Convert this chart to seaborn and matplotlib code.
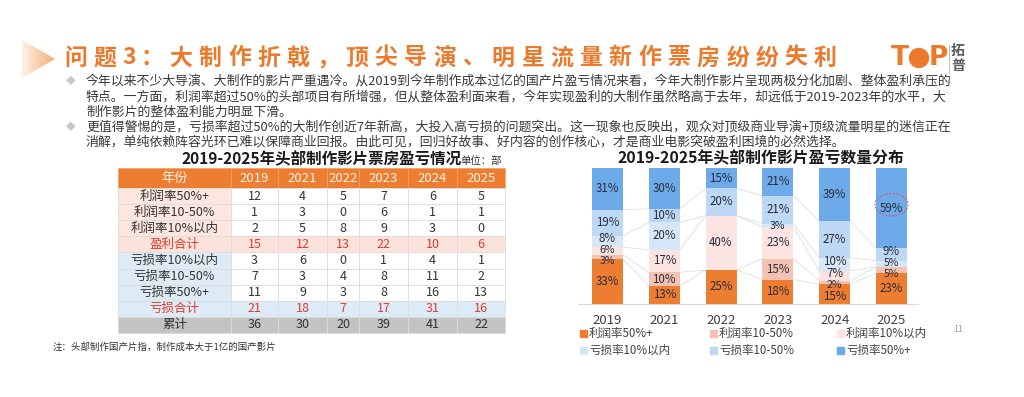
import numpy as np
import pandas as pd
import seaborn as sns
import matplotlib.pyplot as plt
from matplotlib.patches import Polygon, Rectangle, Ellipse, Circle
from matplotlib.colors import LinearSegmentedColormap

# data
years = ["2019", "2021", "2022", "2023", "2024", "2025"]
categories = ["利润率50%+", "利润率10-50%", "利润率10%以内",
              "亏损率10%以内", "亏损率10-50%", "亏损率50%+"]
profit_50 = [12, 4, 5, 7, 6, 5]
profit_10_50 = [1, 3, 0, 6, 1, 1]
profit_10 = [2, 5, 8, 9, 3, 0]
loss_10 = [3, 6, 0, 1, 4, 1]
loss_10_50 = [7, 3, 4, 8, 11, 2]
loss_50 = [11, 9, 3, 8, 16, 13]
profit_total = [15, 12, 13, 22, 10, 6]
loss_total = [21, 18, 7, 17, 31, 16]
total = [36, 30, 20, 39, 41, 22]

table_labels = ["利润率50%+", "利润率10-50%", "利润率10%以内", "盈利合计",
                "亏损率10%以内", "亏损率10-50%", "亏损率50%+", "亏损合计", "累计"]

title = "问题3：大制作折戟，顶尖导演、明星流量新作票房纷纷失利"
bullet_lines = [
    "今年以来不少大导演、大制作的影片严重遇冷。从2019到今年制作成本过亿的国产片盈亏情况来看，今年大制作影片呈现两极分化加剧、整体盈利承压的",
    "特点。一方面，利润率超过50%的头部项目有所增强，但从整体盈利面来看，今年实现盈利的大制作虽然略高于去年，却远低于2019-2023年的水平，大",
    "制作影片的整体盈利能力明显下滑。",
    "更值得警惕的是，亏损率超过50%的大制作创近7年新高，大投入高亏损的问题突出。这一现象也反映出，观众对顶级商业导演+顶级流量明星的迷信正在",
    "消解，单纯依赖阵容光环已难以保障商业回报。由此可见，回归好故事、好内容的创作核心，才是商业电影突破盈利困境的必然选择。",
]

ORANGE = "#EC7A2C"
palette = {
    "利润率50%+": "#ED7D31",
    "利润率10-50%": "#F3C2B3",
    "利润率10%以内": "#FBE4E1",
    "亏损率10%以内": "#D6E8F8",
    "亏损率10-50%": "#BCD8F4",
    "亏损率50%+": "#6DAAE9",
}

sns.set_style("white")
plt.rcParams["font.family"] = ["Noto Sans CJK SC", "DejaVu Sans"]

W, H = 1024, 397
fig = plt.figure(figsize=(W / 100, H / 100), dpi=100)


def box(x0, y0, x1, y1):
    return [x0 / W, 1 - y1 / H, (x1 - x0) / W, (y1 - y0) / H]


bg = fig.add_axes([0, 0, 1, 1])
bg.axis("off")

# arrow decoration with gradient
arrow = Polygon([[22, 40], [55, 59], [22, 78]], closed=True, fc="none", ec="none")
bg.add_patch(arrow)
grad_cmap = LinearSegmentedColormap.from_list("g", ["#FDF1E7", "#F4AE74"])
img = bg.imshow(np.linspace(0, 1, 64).reshape(1, -1), extent=[22, 55, 78, 40],
                aspect="auto", cmap=grad_cmap, zorder=1)
img.set_clip_path(arrow)
bg.set_xlim(0, W)
bg.set_ylim(H, 0)

# title, spaced out glyph by glyph
x = 64
for ch in title:
    bg.text(x, 58, ch, fontsize=16.5, fontweight="bold", color=ORANGE,
            ha="left", va="center")
    x += 17.5 if ch.isdigit() else 29.3

# logo
bg.text(900, 58, "T", fontsize=19, fontweight="bold", color=ORANGE,
        ha="center", va="center", family="DejaVu Sans")
bg.add_patch(Circle((919, 58), 9.5, color=ORANGE))
bg.text(938, 58, "P", fontsize=19, fontweight="bold", color=ORANGE,
        ha="center", va="center", family="DejaVu Sans")
bg.plot([949, 949], [45, 73], color="#BFBFBF", lw=0.8)
bg.text(958, 51, "拓", fontsize=10, fontweight="bold", color="#595959", ha="center", va="center")
bg.text(958, 66, "普", fontsize=10, fontweight="bold", color="#595959", ha="center", va="center")

# bullet text
line_y = [81, 96.5, 112, 127, 142.5]
for y, line in zip(line_y, bullet_lines):
    bg.text(86, y, line, fontsize=9.3, color="#3A3A3A", ha="left", va="center")
for y in (line_y[0], line_y[3]):
    bg.text(71, y, "◆", fontsize=7, color="#C8C8C8", ha="center", va="center")

# titles
bg.text(182, 159, "2019-2025年头部制作影片票房盈亏情况", fontsize=11.2,
        fontweight="bold", color="#1A1A1A", ha="left", va="center")
bg.text(460, 161, "单位：部", fontsize=7.5, color="#333333", ha="left", va="center")
bg.text(617, 158, "2019-2025年头部制作影片盈亏数量分布", fontsize=11.4,
        fontweight="bold", color="#1A1A1A", ha="left", va="center")

# table
table_rows = [profit_50, profit_10_50, profit_10, profit_total,
              loss_10, loss_10_50, loss_50, loss_total, total]
cell_text = [["年份"] + years] + [[lab] + [str(v) for v in row]
                                  for lab, row in zip(table_labels, table_rows)]
col_w = [113, 47, 49, 32, 49, 49, 48]
tab_ax = fig.add_axes(box(118, 168, 505, 333))
tab_ax.axis("off")
tbl = tab_ax.table(cellText=cell_text, colWidths=[w / sum(col_w) for w in col_w],
                   cellLoc="center", bbox=[0, 0, 1, 1])
tbl.auto_set_font_size(False)
for (r, c), cell in tbl.get_celld().items():
    cell.set_height(20 if r == 0 else 16.1)
    cell.set_linewidth(0.6)
    cell.set_edgecolor("#DCDCDC")
    txt = cell.get_text()
    txt.set_fontsize(9)
    txt.set_color("#333333")
    if r == 0:
        cell.set_facecolor("#ED7D31")
        cell.set_edgecolor("#F3A36A")
        txt.set_color("#FFF4EA")
        txt.set_fontsize(9.5)
    elif r == 4:
        cell.set_facecolor("#FBE3DB")
        txt.set_color("#E23B2E")
    elif r == 8:
        cell.set_facecolor("#DDEBF7")
        txt.set_color("#E23B2E")
    elif r == 9:
        cell.set_facecolor("#C3C3C3")
    elif c == 0:
        cell.set_facecolor("#FCE6DF" if r < 4 else "#DEEBF7")
    else:
        cell.set_facecolor("white")

# stacked 100% bar chart
series = [profit_50, profit_10_50, profit_10, loss_10, loss_10_50, loss_50]
df = pd.DataFrame([
    {"pos": j, "category": cat, "count": vals[j]}
    for cat, vals in zip(categories, series) for j in range(len(years))
])
step = 56.8
bar_w = 31 / step
ax = fig.add_axes(box(578, 168, 918, 304))
sns.histplot(data=df, x="pos", hue="category", weights="count", multiple="fill",
             discrete=True, shrink=bar_w, hue_order=categories[::-1],
             palette=palette, alpha=1, linewidth=0, legend=False, ax=ax)
ax.set_xlim(-29.5 / step, 310.5 / step)
ax.set_ylim(0, 1)
ax.set_xticks(range(len(years)))
ax.set_xticklabels(years, fontsize=9.5, color="#404040")
ax.tick_params(axis="x", length=0, pad=7)
ax.set_yticks([])
ax.set_xlabel("")
ax.set_ylabel("")
sns.despine(ax=ax, left=True)
ax.spines["bottom"].set_color("#D9D9D9")
ax.spines["bottom"].set_linewidth(0.8)

shares = np.array(series) / np.array(total)
cum = np.cumsum(shares, axis=0)

# faint series lines between bars
for i in range(len(categories) - 1):
    for j in range(len(years) - 1):
        ax.plot([j + bar_w / 2, j + 1 - bar_w / 2], [cum[i, j], cum[i, j + 1]],
                color="#D8D8D8", lw=0.5, zorder=0)

# segment labels, nudged apart where segments are thin
min_gap = 11.5 / 136
for j in range(len(years)):
    idx = [i for i in range(len(categories)) if series[i][j] > 0]
    ys = [cum[i, j] - shares[i, j] / 2 for i in idx]
    for _ in range(80):
        for k in range(len(ys) - 1):
            d = ys[k + 1] - ys[k]
            if d < min_gap:
                push = (min_gap - d) / 2
                ys[k] -= push
                ys[k + 1] += push
        ys = [min(max(v, 0.045), 0.955) for v in ys]
    for i, yv in zip(idx, ys):
        fs = 7.6 if shares[i, j] < 0.06 else 8.3
        ax.text(j, yv, f"{round(shares[i, j] * 100)}%", ha="center", va="center",
                fontsize=fs, color="#2B2B3A")

# highlight of 2025 top segment
top_y = cum[-1, -1] - shares[-1, -1] / 2
ax.add_patch(Ellipse((len(years) - 1, top_y + 0.025), 33 / step, 0.165, fill=False,
                     ec="#D9534F", lw=0.7, ls=(0, (2, 1.5))))

# legend
leg_x = [580, 710, 837]
leg_y = [333, 350]
for k, cat in enumerate(categories):
    lx, ly = leg_x[k % 3], leg_y[k // 3]
    bg.add_patch(Rectangle((lx, ly - 3.5), 7, 7, color=palette[cat]))
    bg.text(lx + 9, ly, cat, fontsize=8.3, color="#404040", ha="left", va="center")

bg.text(958, 330, "11", fontsize=6.5, color="#A0A0A0", ha="center", va="center")
bg.text(53, 347, "注：头部制作国产片指，制作成本大于1亿的国产影片", fontsize=6.8,
        color="#333333", ha="left", va="center")

fig.savefig("out.png", dpi=100, facecolor="white")
